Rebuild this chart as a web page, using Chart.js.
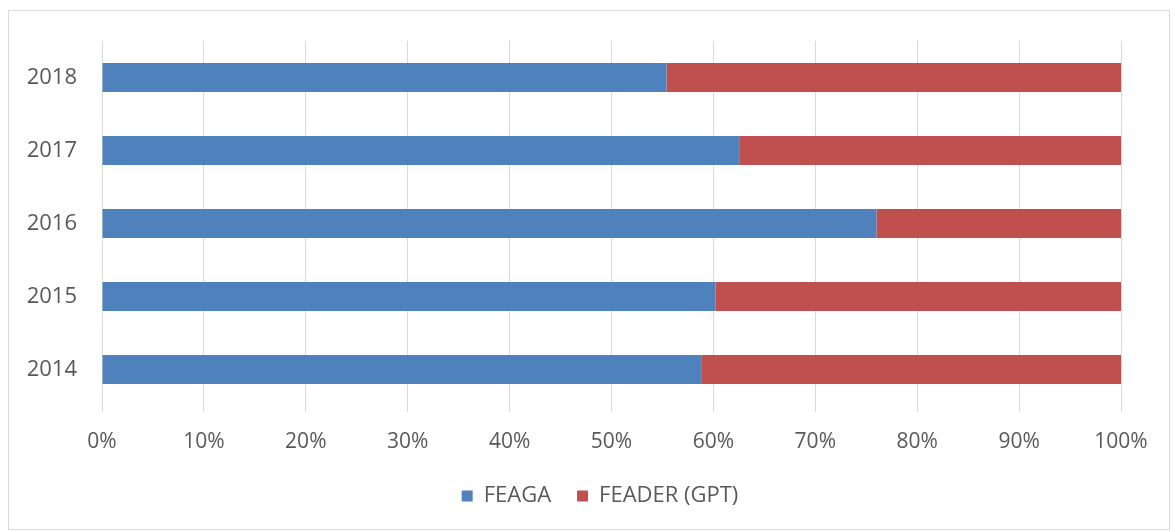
<!DOCTYPE html>
<html>
<head>
<meta charset="utf-8">
<script src="https://cdn.jsdelivr.net/npm/chart.js@4.4.1/dist/chart.umd.min.js"></script>
<style>
  body { margin: 0; background: #fff; }
  #wrap { width: 1175px; height: 532px; }
</style>
</head>
<body>
<div id="wrap"><canvas id="chart" width="1175" height="532"></canvas></div>
<script>
var years = ["2018", "2017", "2016", "2015", "2014"];
var feaga = [55.4, 62.6, 76.0, 60.2, 58.8];
var feader = [44.6, 37.4, 24.0, 39.8, 41.2];
var xTicks = [0, 10, 20, 30, 40, 50, 60, 70, 80, 90, 100];

var textColor = '#595959';
var gridColor = '#d9d9d9';
var labelFont = { family: "'Open Sans', sans-serif", size: 22 };
var tickFont = { family: "'Open Sans', sans-serif", size: 21 };

// white background + light frame around the chart
var framePlugin = {
    id: 'frame',
    beforeDraw: function(chart) {
        var ctx = chart.ctx;
        ctx.save();
        ctx.fillStyle = '#ffffff';
        ctx.fillRect(0, 0, chart.width, chart.height);
        ctx.strokeStyle = gridColor;
        ctx.lineWidth = 1;
        ctx.strokeRect(8.5, 10.5, 1161, 519);
        ctx.restore();
    }
};

var ctx = document.getElementById('chart').getContext('2d');
var chart = new Chart(ctx, {
    type: 'bar',
    data: {
        labels: years,
        datasets: [
            {
                label: 'FEAGA',
                data: feaga,
                backgroundColor: '#4f81bd',
                barPercentage: 0.4,
                categoryPercentage: 1.0
            },
            {
                label: 'FEADER (GPT)',
                data: feader,
                backgroundColor: '#c0504d',
                barPercentage: 0.4,
                categoryPercentage: 1.0
            }
        ]
    },
    options: {
        indexAxis: 'y',
        responsive: false,
        animation: false,
        layout: {
            padding: { top: 41, right: 0, left: 25, bottom: 15 }
        },
        scales: {
            x: {
                stacked: true,
                min: 0,
                max: 100,
                afterBuildTicks: function(scale) {
                    scale.ticks = xTicks.map(function(v) { return { value: v }; });
                },
                afterFit: function(scale) { scale.height = 53; },
                grid: { color: gridColor, tickLength: 6, tickColor: gridColor },
                border: { display: false },
                ticks: {
                    color: textColor,
                    font: tickFont,
                    padding: 17,
                    callback: function(v) { return v + '%'; }
                }
            },
            y: {
                stacked: true,
                afterFit: function(scale) { scale.width = 77; },
                grid: { display: false },
                border: { display: false },
                ticks: { color: textColor, font: labelFont, padding: 17 }
            },
            // empty spacer on the right so the plot ends where the reference does
            yRight: {
                position: 'right',
                afterFit: function(scale) { scale.width = 54; },
                grid: { display: false },
                border: { display: false },
                ticks: { display: false }
            }
        },
        plugins: {
            legend: {
                position: 'bottom',
                labels: {
                    color: textColor,
                    font: labelFont,
                    boxWidth: 11,
                    boxHeight: 11,
                    padding: 26
                }
            },
            tooltip: { enabled: false }
        }
    },
    plugins: [framePlugin]
});
</script>
</body>
</html>
